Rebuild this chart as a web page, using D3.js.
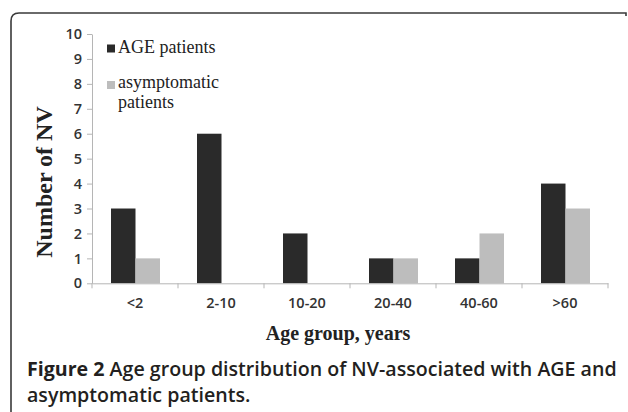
<!DOCTYPE html>
<html>
<head>
<meta charset="utf-8">
<script src="https://cdn.jsdelivr.net/npm/d3@7"></script>
<style>
  html, body { margin: 0; padding: 0; background: #fff; }
  svg { display: block; }
</style>
</head>
<body>
<svg id="chart" width="628" height="412"></svg>
<script>
const categories = ["<2", "2-10", "10-20", "20-40", "40-60", ">60"];
const seriesNames = ["AGE patients", "asymptomatic patients"];
const agePatients = [3, 6, 2, 1, 1, 4];
const asymptomaticPatients = [1, 0, 0, 1, 2, 3];
const yTicks = [0, 1, 2, 3, 4, 5, 6, 7, 8, 9, 10];
const colors = ["#2a2a2a", "#bdbdbd"];

const svg = d3.select("#chart");

// Frame
svg.append("path")
  .attr("d", "M11,414 L11,21 Q11,13 19,13 L626,13 L626,16")
  .attr("fill", "none").attr("stroke", "#3a3a3a").attr("stroke-width", 1.6);

const y = d3.scaleLinear().domain([0, 10]).range([283.3, 34]);
const x = d3.scaleBand().domain(categories).range([92, 608]).padding(0);
const inner = d3.scaleBand().domain(seriesNames).range([19, 68]).padding(0);

// Bars
const data = categories.map((c, i) => ({cat: c, vals: [agePatients[i], asymptomaticPatients[i]]}));
const groups = svg.append("g").selectAll("g").data(data).join("g")
  .attr("transform", d => `translate(${x(d.cat)},0)`);
groups.selectAll("rect")
  .data(d => d.vals.map((v, k) => ({v, k})).filter(o => o.v > 0))
  .join("rect")
  .attr("x", o => inner(seriesNames[o.k]))
  .attr("width", inner.bandwidth())
  .attr("y", o => y(o.v))
  .attr("height", o => y(0) - y(o.v))
  .attr("fill", o => colors[o.k]);

// Y axis
const yAxis = svg.append("g").attr("transform", "translate(92,0)")
  .call(d3.axisLeft(y).tickValues(yTicks).tickSize(5).tickPadding(5).tickSizeOuter(0));
yAxis.attr("font-size", null).attr("font-family", null);
yAxis.select(".domain").attr("stroke", "#b5b5b5");
yAxis.selectAll(".tick line").attr("stroke", "#b5b5b5");
yAxis.selectAll("text").style("font-family", "'Open Sans', sans-serif").style("font-size", "14.5px")
  .style("font-weight", "600").attr("fill", "#333");

// X axis
const xAxis = svg.append("g").attr("transform", "translate(0,283.3)")
  .call(d3.axisBottom(x).tickSize(0).tickPadding(14));
xAxis.attr("font-size", null).attr("font-family", null);
xAxis.select(".domain").attr("stroke", "#b5b5b5");
xAxis.selectAll("text").style("font-family", "'Open Sans', sans-serif").style("font-size", "14.5px")
  .style("font-weight", "600").attr("fill", "#333");
// boundary ticks
const bounds = categories.map(c => x(c)).concat([x.range()[1]]);
xAxis.selectAll("line.bound").data(bounds).join("line").attr("class", "bound")
  .attr("x1", d => d).attr("x2", d => d).attr("y1", 0).attr("y2", 5)
  .attr("stroke", "#b5b5b5");

// Axis titles
svg.append("text")
  .attr("transform", "translate(52,182) rotate(-90)")
  .attr("text-anchor", "middle")
  .style("font-family", "'Liberation Serif', 'Times New Roman', serif")
  .style("font-weight", "bold").style("font-size", "24px").attr("fill", "#222")
  .text("Number of NV");
svg.append("text")
  .attr("x", 338).attr("y", 340)
  .attr("text-anchor", "middle")
  .style("font-family", "'Liberation Serif', 'Times New Roman', serif")
  .style("font-weight", "bold").style("font-size", "20px").attr("fill", "#222")
  .text("Age group, years");

// Legend
const leg = svg.append("g").style("font-family", "'Liberation Serif', 'Times New Roman', serif")
  .style("font-size", "18px").attr("fill", "#222");
leg.append("rect").attr("x", 107).attr("y", 44.5).attr("width", 8).attr("height", 8).attr("fill", colors[0]);
leg.append("text").attr("x", 118).attr("y", 53.3).text("AGE patients");
leg.append("rect").attr("x", 107).attr("y", 81).attr("width", 8).attr("height", 8).attr("fill", colors[1]);
leg.append("text").attr("x", 118).attr("y", 88).text("asymptomatic");
leg.append("text").attr("x", 118).attr("y", 108).text("patients");

// Caption
const cap = svg.append("g").style("font-family", "'Open Sans', sans-serif")
  .style("font-size", "18px").style("font-weight", "600").attr("fill", "#231f20");
const l1 = cap.append("text").attr("x", 27).attr("y", 375.5);
l1.append("tspan").style("font-weight", "bold").text("Figure 2");
l1.append("tspan").text(" Age group distribution of NV-associated with AGE and");
const l2 = cap.append("text").attr("x", 27).attr("y", 401.5).text("asymptomatic patients.");
// fit line 1 to the reference width
const w = l1.node().getComputedTextLength();
const fs = 18 * 590 / w;
cap.style("font-size", fs + "px");
</script>
</body>
</html>
